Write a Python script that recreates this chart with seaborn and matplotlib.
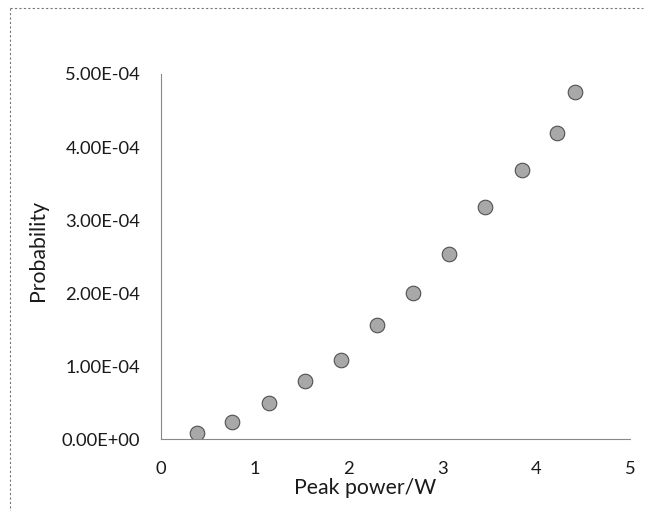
import matplotlib
matplotlib.use("Agg")
import matplotlib.pyplot as plt
import seaborn as sns
import pandas as pd
from matplotlib.ticker import FuncFormatter
from matplotlib.lines import Line2D

peak_power = [0.384, 0.757, 1.151, 1.535, 1.919, 2.303, 2.687, 3.07, 3.454, 3.849, 4.22, 4.41]
probability = [0.08e-4, 0.233e-4, 0.493e-4, 0.795e-4, 1.082e-4, 1.562e-4, 2.0e-4,
               2.534e-4, 3.178e-4, 3.685e-4, 4.19e-4, 4.75e-4]
x_ticks = [0, 1, 2, 3, 4, 5]
y_ticks = [0, 1e-4, 2e-4, 3e-4, 4e-4, 5e-4]

df = pd.DataFrame({"Peak power/W": peak_power, "Probability": probability})

sns.set_style("white")
plt.rcParams['font.family'] = ['Lato', 'DejaVu Sans']

W, H = 647, 511
fig = plt.figure(figsize=(W / 100, H / 100), dpi=100)
ax_l, ax_r, ax_t, ax_b = 161, 630, 74, 439
ax = fig.add_axes([ax_l / W, 1 - ax_b / H, (ax_r - ax_l) / W, (ax_b - ax_t) / H])

sns.scatterplot(data=df, x="Peak power/W", y="Probability", ax=ax,
                s=110, color="#a8a8a8", edgecolor="#505050", linewidth=0.8)

ax.set_xlim(0, 5)
ax.set_ylim(0, 5e-4)
ax.set_xticks(x_ticks)
ax.set_yticks(y_ticks)
ax.yaxis.set_major_formatter(FuncFormatter(lambda v, p: "%.2E" % v))
ax.tick_params(axis='both', length=0, labelsize=13.2, colors="#1a1a1a")
ax.tick_params(axis='x', pad=16)
ax.tick_params(axis='y', pad=15)
ax.set_xlabel("Peak power/W", fontsize=15.3, color="#1a1a1a")
ax.set_ylabel("Probability", fontsize=15.3, color="#1a1a1a")
ax.xaxis.set_label_coords(0.435, -(478 - ax_b) / (ax_b - ax_t))
ax.yaxis.set_label_coords(-(ax_l - 48) / (ax_r - ax_l), (ax_b - 250) / (ax_b - ax_t))

for side in ["top", "right"]:
    ax.spines[side].set_visible(False)
for side in ["left", "bottom"]:
    ax.spines[side].set_color("#888888")
    ax.spines[side].set_linewidth(0.8)
    ax.spines[side].set_linestyle((0, (2, 1)))

# outer dotted frame (top and left edges only, as in the reference)
fig.lines.append(Line2D([10 / W, 643 / W], [1 - 8 / H, 1 - 8 / H], transform=fig.transFigure,
                        color="#777777", linewidth=0.8, linestyle=(0, (2, 2))))
fig.lines.append(Line2D([10 / W, 10 / W], [1 - 8 / H, 0], transform=fig.transFigure,
                        color="#777777", linewidth=0.8, linestyle=(0, (2, 2))))

fig.savefig("out.png", dpi=100)
